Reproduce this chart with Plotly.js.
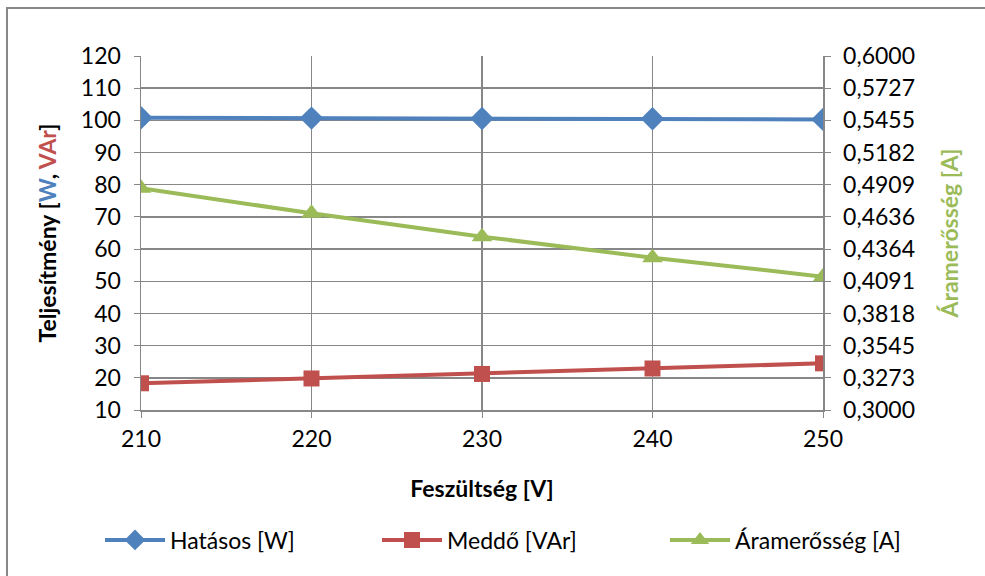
<!DOCTYPE html>
<html><head><meta charset="utf-8">
<script src="https://cdn.plot.ly/plotly-3.0.1.min.js"></script>
<style>html,body{margin:0;padding:0;background:#fff;overflow:hidden}#c{width:985px;height:576px}</style>
</head><body><div id="c"></div>
<script>
const voltage = [210, 220, 230, 240, 250];
const hatasos = [100.8, 100.7, 100.6, 100.5, 100.3];
const meddo = [18.3, 19.8, 21.2, 22.9, 24.5];
const aram = [0.4879, 0.4667, 0.4469, 0.4291, 0.4130];
const names = ['Hatásos [W]', 'Meddő [VAr]', 'Áramerősség [A]'];
const colors = ['#4F81BD', '#C0504D', '#9BBB59'];

const font = 'Lato, "Liberation Sans", sans-serif';
const FS = 23;
const traces = [
  {x: voltage, y: hatasos, name: names[0], type: 'scatter', mode: 'lines+markers', legend: 'legend',
   line: {color: colors[0], width: 4}, marker: {symbol: 'diamond', size: 18, color: colors[0]}},
  {x: voltage, y: meddo, name: names[1], type: 'scatter', mode: 'lines+markers', legend: 'legend2',
   line: {color: colors[1], width: 4}, marker: {symbol: 'square', size: 16, color: colors[1]}},
  {x: voltage, y: aram, name: names[2], type: 'scatter', mode: 'lines+markers', yaxis: 'y2', legend: 'legend3',
   line: {color: colors[2], width: 4}, marker: {symbol: 'triangle-up', size: 18, color: colors[2]}}
];
const W = 985, H = 576, ML = 141, MR = 162, MT = 56, MB = 166;
const PW = W - ML - MR, PH = H - MT - MB;
function leg(xpx) {
  return {orientation: 'h', xref: 'container', yref: 'container', x: xpx / W, xanchor: 'left',
          y: 1 - 540 / H, yanchor: 'middle', font: {size: FS}, itemwidth: 60, bgcolor: 'rgba(0,0,0,0)'};
}
const layout = {
  width: W, height: H,
  margin: {l: ML, r: MR, t: MT, b: MB},
  paper_bgcolor: '#fff', plot_bgcolor: '#fff',
  separators: ', ',
  font: {family: font, size: FS, color: '#000'},
  showlegend: true,
  legend: leg(100), legend2: leg(377), legend3: leg(665),
  shapes: [
    {type: 'line', xref: 'paper', yref: 'paper', x0: (7 - ML) / PW, x1: (7 - ML) / PW,
     y0: 1 + (MT - 7) / PH, y1: -(MB + 5) / PH, line: {color: '#888', width: 2}},
    {type: 'line', xref: 'paper', yref: 'paper', x0: (6 - ML) / PW, x1: (W + 5 - ML) / PW,
     y0: 1 + (MT - 8) / PH, y1: 1 + (MT - 8) / PH, line: {color: '#888', width: 2}}
  ],
  xaxis: {range: [210, 250], dtick: 10, tick0: 210, showgrid: true, gridcolor: '#878787', gridwidth: 1.5,
          linecolor: '#878787', linewidth: 1.5, ticks: 'outside', ticklen: 6, tickcolor: '#878787',
          zeroline: false, tickfont: {size: FS}, ticklabelstandoff: 2,
          title: {text: '<b>Feszültség [V]</b>', font: {size: FS}, standoff: 30}},
  yaxis: {range: [10, 120], dtick: 10, tick0: 10, showgrid: true, gridcolor: '#878787', gridwidth: 1.5,
          linecolor: '#878787', linewidth: 1.5, ticks: 'outside', ticklen: 6, tickcolor: '#878787',
          zeroline: false, tickfont: {size: FS}, ticklabelstandoff: 8,
          title: {text: '<b>Teljesítmény [<span style="fill:#4F81BD">W</span>, <span style="fill:#C0504D">VAr</span>]</b>', font: {size: FS}, standoff: 18}},
  yaxis2: {range: [0.3, 0.6], tick0: 0.3, dtick: 0.3/11, tickformat: '.4f', overlaying: 'y', side: 'right',
           showgrid: false, zeroline: false, linecolor: '#878787', linewidth: 1.5, showline: true,
           ticks: 'outside', ticklen: 6, tickcolor: '#878787', tickfont: {size: FS}, ticklabelstandoff: 8,
           title: {text: '<b>Áramerősség [A]</b>', font: {size: FS, color: '#9BBB59'}, standoff: 28}}
};
Plotly.newPlot('c', traces, layout, {displayModeBar: false, staticPlot: true});
</script></body></html>
